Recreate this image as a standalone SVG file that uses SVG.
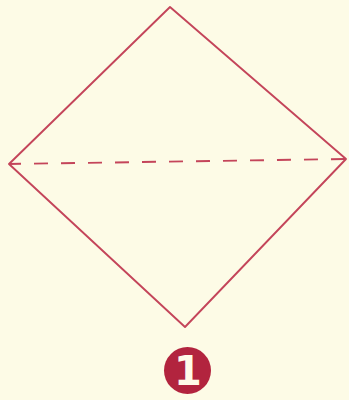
<svg xmlns="http://www.w3.org/2000/svg" width="349" height="400" viewBox="0 0 349 400">
<style>
.edge{fill:none;stroke:#c4455a;stroke-width:1.9;stroke-linejoin:round;stroke-linecap:round}
.fold{fill:none;stroke:#c4455a;stroke-width:1.9;stroke-dasharray:14 13}
.num{font-family:"DejaVu Sans",sans-serif;font-weight:bold;font-size:40px;fill:#fffbe8}
</style>
<rect width="349" height="400" fill="#fdfbe6"/>
<g id="square">
<path class="edge" d="M170,7 L346,159 L185,327 L9,164 Z"/>
</g>
<g id="connectors">
<line class="fold" x1="9" y1="164" x2="346" y2="159" stroke-dashoffset="2"/>
</g>
<g id="step1">
<circle cx="187.5" cy="370.5" r="23.5" fill="#b2243e"/>
<text class="num" x="188" y="385" text-anchor="middle">1</text>
</g>
</svg>
